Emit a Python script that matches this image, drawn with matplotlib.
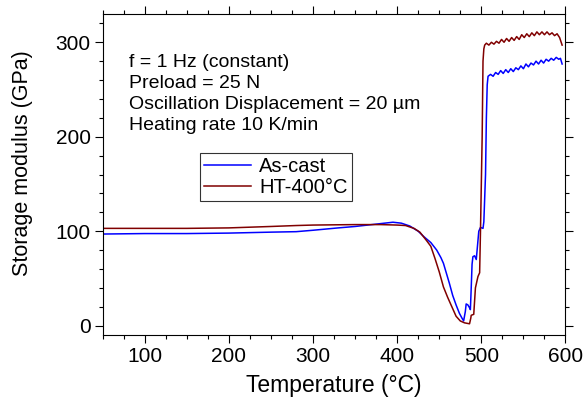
import matplotlib
matplotlib.use("Agg")
import matplotlib.pyplot as plt
from matplotlib.ticker import MultipleLocator

plt.rcParams["font.family"] = ["Liberation Sans", "DejaVu Sans"]

# As-cast
t_cast = [50, 100, 150, 200, 250, 280, 300, 330, 350, 370, 385, 395, 405, 415,
          425, 432, 440, 447, 452, 455, 458, 462, 466, 470, 474, 477, 479, 481,
          482, 484, 486, 487, 488, 489, 490, 492, 494, 495, 497, 499, 502, 503,
          505, 506, 507, 508, 511, 514, 517, 520, 523, 526, 529, 532, 535, 538,
          541, 544, 547, 550, 553, 556, 559, 562, 565, 568, 571, 574, 577, 580,
          583, 586, 589, 592, 594, 596]
e_cast = [97, 97.5, 97.5, 98, 99, 99.5, 101, 103.5, 105, 107, 108.5, 109.5, 108.5, 105.5,
          100, 94, 88, 80, 72, 66, 57, 45, 32, 22, 13, 8, 5, 15,
          23, 22, 19, 17, 40, 65, 73, 74, 70, 80, 100, 104, 103, 110,
          160, 220, 255, 264, 266, 264, 268, 266, 270, 267, 271, 268, 272, 269,
          273, 271, 275, 272, 277, 274, 278, 276, 280, 277, 281, 278, 282, 280,
          283, 281, 284, 282, 283, 277]

# HT-400°C
t_ht = [50, 100, 150, 200, 250, 280, 300, 350, 380, 400, 410, 420, 427, 435,
        440, 445, 450, 455, 460, 465, 470, 475, 480, 486, 487.5, 488, 491, 493,
        496, 498, 499, 501, 502, 503, 504, 506, 509, 512, 515, 518, 521, 524,
        527, 530, 533, 536, 539, 542, 545, 548, 551, 554, 557, 560, 563, 566,
        569, 572, 575, 578, 581, 584, 587, 590, 593, 596]
e_ht = [103, 103, 103, 103.5, 105, 106, 106.5, 107, 107, 106.5, 106, 103, 99, 90,
        84, 71, 57, 41, 30, 20, 10, 5, 3, 2, 8, 11, 12, 40,
        52, 56, 100, 200, 280, 293, 297, 299, 297, 300, 298, 301, 299, 303,
        300, 304, 301, 305, 302, 306, 303, 308, 305, 309, 306, 310, 307, 311,
        308, 311, 308, 311, 308, 310, 307, 309, 305, 297]

conditions = ["f = 1 Hz (constant)", "Preload = 25 N",
              "Oscillation Displacement = 20 \u00b5m", "Heating rate 10 K/min"]

fig = plt.figure(figsize=(5.86, 3.98), dpi=100)
ax = fig.add_axes([0.175, 0.158, 0.79, 0.807])

ax.plot(t_cast, e_cast, color="#0000ff", lw=1.1, label="As-cast")
ax.plot(t_ht, e_ht, color="#800000", lw=1.1, label="HT-400\u00b0C")

ax.set_xlim(50, 600)
ax.set_ylim(-10, 330)
ax.xaxis.set_major_locator(MultipleLocator(100))
ax.xaxis.set_minor_locator(MultipleLocator(25))
ax.yaxis.set_major_locator(MultipleLocator(100))
ax.yaxis.set_minor_locator(MultipleLocator(20))
ax.tick_params(which="both", direction="out", top=True, right=True,
               labelsize=15, width=0.8)
ax.tick_params(which="major", length=5.5, pad=3)
ax.tick_params(which="minor", length=3)
for s in ax.spines.values():
    s.set_linewidth(0.8)

ax.set_xlabel("Temperature (\u00b0C)", fontsize=16.5, labelpad=6)
ax.set_ylabel("Storage modulus (GPa)", fontsize=15.5)
ax.yaxis.set_label_coords(-0.15, 0.536)

ax.text(0.057, 0.875, "\n".join(conditions), transform=ax.transAxes,
        fontsize=14, va="top", ha="left", linespacing=1.3)

leg = ax.legend(loc="upper left", bbox_to_anchor=(0.21, 0.567), fontsize=14.5,
                frameon=True, fancybox=False, edgecolor="black",
                handlelength=2.35, handletextpad=0.4, borderpad=0.2,
                labelspacing=0.12, borderaxespad=0)
leg.get_frame().set_linewidth(0.8)

fig.savefig("out.png", dpi=100)
